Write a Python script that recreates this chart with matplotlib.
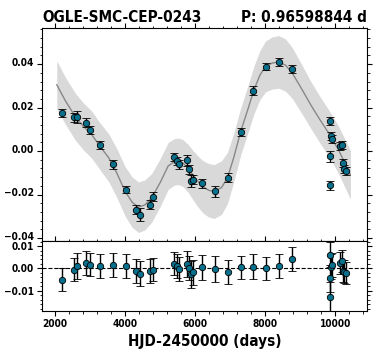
import matplotlib
matplotlib.use('Agg')
import matplotlib.pyplot as plt
import matplotlib.transforms as mtransforms
from matplotlib.ticker import MultipleLocator, AutoMinorLocator

plt.rcParams['font.family'] = ['DejaVu Sans']
plt.rcParams['font.weight'] = 'bold'
plt.rcParams['font.stretch'] = 'condensed'

# Observaciones
hjd = [2208, 2530, 2615, 2871, 2985, 3278, 3667, 4017, 4320, 4424, 4699, 4803,
       5409, 5475, 5532, 5769, 5826, 5883, 5940, 6205, 6565, 6934, 7313, 7663,
       8032, 8402, 8752, 9845, 9850, 9860, 9870, 9895, 10144, 10191, 10220,
       10258, 10305]
mag = [0.0174, 0.0155, 0.0158, 0.0130, 0.0097, 0.0029, -0.0061, -0.0177,
       -0.0269, -0.0292, -0.0246, -0.0210, -0.0029, -0.0046, -0.0061, -0.0043,
       -0.0084, -0.0138, -0.0131, -0.0149, -0.0184, -0.0123, 0.0088, 0.0278,
       0.0388, 0.0410, 0.0379, -0.0023, -0.0157, 0.0138, 0.0071, 0.0055,
       0.0023, 0.0028, -0.0054, -0.0081, -0.0091]
err = [0.0018, 0.0020, 0.0028, 0.0020, 0.0018, 0.0018, 0.0020, 0.0018,
       0.0020, 0.0028, 0.0022, 0.0020, 0.0018, 0.0020, 0.0020, 0.0025,
       0.0020, 0.0028, 0.0022, 0.0022, 0.0025, 0.0020, 0.0018, 0.0022,
       0.0015, 0.0020, 0.0018, 0.0025, 0.0020, 0.0020, 0.0018, 0.0018,
       0.0018, 0.0018, 0.0018, 0.0018, 0.0018]
resid = [-0.0051, -0.0006, 0.0012, 0.0026, 0.0017, 0.0011, 0.0017, 0.0011,
         -0.0011, -0.0023, -0.0011, -0.0005, 0.0021, 0.0009, -0.0003, 0.0021,
         0.0000, -0.0026, -0.0017, 0.0005, -0.0002, -0.0017, 0.0005, 0.0008,
         0.0000, 0.0011, 0.0042, -0.0045, -0.0129, 0.0062, 0.0008, 0.0015,
         0.0023, 0.0032, -0.0011, -0.0014, -0.0021]
rerr = [0.0052, 0.0052, 0.0058, 0.0054, 0.0050, 0.0052, 0.0054, 0.0052,
        0.0054, 0.0058, 0.0055, 0.0052, 0.0052, 0.0054, 0.0054, 0.0058,
        0.0054, 0.0060, 0.0056, 0.0056, 0.0058, 0.0055, 0.0052, 0.0056,
        0.0050, 0.0054, 0.0055, 0.0060, 0.0066, 0.0055, 0.0055, 0.0052,
        0.0050, 0.0050, 0.0050, 0.0050, 0.0050]

# Modelo (media y desviación)
curve_x = [2050, 2300, 2580, 2800, 3050, 3300, 3530, 3760, 4000, 4200, 4380,
           4560, 4760, 5000, 5230, 5400, 5520, 5650, 5800, 5930, 6070, 6210,
           6380, 6540, 6750, 6920, 7100, 7300, 7500, 7680, 7850, 8010, 8200,
           8390, 8580, 8770, 9050, 9300, 9530, 9810, 10090, 10430]
curve_y = [0.0305, 0.0230, 0.0158, 0.0115, 0.0075, 0.0018, -0.0030, -0.0100,
           -0.0185, -0.0235, -0.0258, -0.0248, -0.0215, -0.0145, -0.0068,
           -0.0050, -0.0047, -0.0055, -0.0080, -0.0109, -0.0138, -0.0163,
           -0.0180, -0.0186, -0.0168, -0.0124, -0.0030, 0.0091, 0.0190, 0.0283,
           0.0350, 0.0390, 0.0405, 0.0410, 0.0395, 0.0359, 0.0283, 0.0212,
           0.0152, 0.0083, 0.0006, -0.0109]
curve_s = [0.0110, 0.0108, 0.0108, 0.0108, 0.0108, 0.0108, 0.0110, 0.0112,
           0.0114, 0.0116, 0.0116, 0.0115, 0.0112, 0.0110, 0.0108, 0.0107,
           0.0107, 0.0108, 0.0110, 0.0113, 0.0117, 0.0120, 0.0123, 0.0124,
           0.0123, 0.0118, 0.0112, 0.0108, 0.0108, 0.0110, 0.0113, 0.0117,
           0.0120, 0.0121, 0.0120, 0.0117, 0.0112, 0.0108, 0.0107, 0.0107,
           0.0109, 0.0112]

star = 'OGLE-SMC-CEP-0243'
period = 'P: 0.96598844 d'

fig = plt.figure(figsize=(3.79, 3.63), dpi=100)
ax1 = fig.add_axes([0.111, 0.337, 0.857, 0.587])
ax2 = fig.add_axes([0.111, 0.143, 0.857, 0.194])

upper = [m + s for m, s in zip(curve_y, curve_s)]
lower = [m - s for m, s in zip(curve_y, curve_s)]
ax1.fill_between(curve_x, lower, upper, color='#d9d9d9', lw=0)
ax1.plot(curve_x, curve_y, color='#888888', lw=1)

pt = dict(fmt='o', color='#086f8c', mec='black', mew=0.6, ms=4.6,
          ecolor='black', elinewidth=1, capsize=3, capthick=1)
ax1.errorbar(hjd, mag, yerr=err, **pt)
ax2.errorbar(hjd, resid, yerr=rerr, **pt)
ax2.axhline(0, color='black', ls='--', lw=0.8, zorder=0)

fmt = plt.FuncFormatter(lambda v, p: f'{v:.2f}'.replace('-', '\u2212'))
for ax in (ax1, ax2):
    ax.set_xlim(1630, 10900)
    ax.xaxis.set_major_locator(MultipleLocator(2000))
    ax.xaxis.set_minor_locator(MultipleLocator(400))
    ax.yaxis.set_minor_locator(AutoMinorLocator(5))
    ax.yaxis.set_major_formatter(fmt)
    ax.tick_params(which='both', direction='out', top=True, right=True,
                   labelsize=7.3, pad=2.5)
    ax.tick_params(which='major', length=3.5, width=0.8)
    ax.tick_params(which='minor', length=1.8, width=0.6)
    for s in ax.spines.values():
        s.set_linewidth(0.8)

ax1.set_ylim(-0.0412, 0.0568)
ax1.yaxis.set_major_locator(MultipleLocator(0.02))
ax1.tick_params(labelbottom=False)

ax2.set_ylim(-0.0191, 0.0124)
ax2.yaxis.set_major_locator(MultipleLocator(0.01))
ax2.set_xlabel('HJD-2450000 (days)', fontsize=11, fontweight='bold', labelpad=3)

ax1.set_title(star, loc='left', fontsize=11, fontweight='bold', pad=4)
ax1.set_title(period, loc='right', fontsize=11, fontweight='bold', pad=4)

# subir un poco las etiquetas del panel superior para que no choquen
fig.canvas.draw()
up = mtransforms.ScaledTranslation(0, 1.5 / 72, fig.dpi_scale_trans)
for lab in ax1.get_yticklabels():
    lab.set_transform(lab.get_transform() + up)

plt.savefig('out.png', dpi=100)
